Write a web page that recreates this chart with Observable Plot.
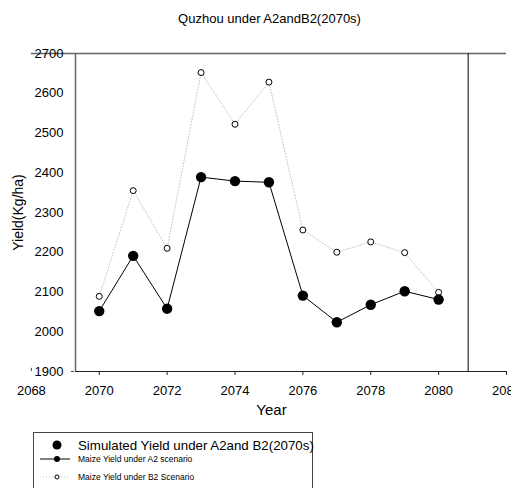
<!DOCTYPE html>
<html>
<head>
<meta charset="utf-8">
<script src="https://cdn.jsdelivr.net/npm/d3@7"></script>
<script src="https://cdn.jsdelivr.net/npm/@observablehq/plot@0.6"></script>
<style>
  html, body { margin: 0; padding: 0; background: #fff; }
  svg { display: block; font-family: "Liberation Sans", Arial, sans-serif; }
</style>
</head>
<body>
<div id="chart"></div>
<script>
// Maize yield at Quzhou, 2070–2080, under the A2 and B2 climate scenarios
const years = [2070, 2071, 2072, 2073, 2074, 2075, 2076, 2077, 2078, 2079, 2080];
const yieldA2 = [2052, 2191, 2058, 2389, 2379, 2376, 2091, 2024, 2068, 2102, 2081];
const yieldB2 = [2089, 2355, 2210, 2652, 2522, 2628, 2256, 2200, 2226, 2199, 2099];

const xTicks = [2068, 2070, 2072, 2074, 2076, 2078, 2080, 2082];
const yTicks = [1900, 2000, 2100, 2200, 2300, 2400, 2500, 2600, 2700];

const titleText = "Quzhou under A2andB2(2070s)";
const xLabel = "Year";
const yLabel = "Yield(Kg/ha)";
const legendTitle = "Simulated Yield under A2and B2(2070s)";
const legendA2 = "Maize Yield under A2 scenario";
const legendB2 = "Maize Yield under B2 Scenario";

const a2 = years.map((year, i) => ({year, value: yieldA2[i]}));
const b2 = years.map((year, i) => ({year, value: yieldB2[i]}));

const xMin = 2069.3, xMax = 2082;
const yMin = 1900, yMax = 2700;
const rightLine = 2080.87;

const chart = Plot.plot({
  width: 511,
  height: 488,
  marginLeft: 75,
  marginRight: 5,
  marginTop: 53,
  marginBottom: 117,
  style: {fontFamily: "Liberation Sans, Arial, sans-serif", background: "#fff"},
  x: {domain: [xMin, xMax], axis: null},
  y: {domain: [yMin, yMax], axis: null},
  marks: [
    // frame: top line, left axis, bottom axis, right divider
    Plot.ruleY([yMax], {x1: 2068, x2: xMax, stroke: "#666", strokeWidth: 1.5}),
    Plot.ruleX([xMin], {y1: yMin, y2: yMax, stroke: "#666", strokeWidth: 1.5}),
    Plot.ruleY([yMin], {x1: xMin, x2: xMax, stroke: "#222", strokeWidth: 1}),
    Plot.ruleY([yMin], {x1: xMin - 0.12, x2: xMin - 0.03, stroke: "#444", strokeWidth: 1}),
    Plot.ruleX([2068], {y1: yMin, y2: yMin + 8, stroke: "#444", strokeWidth: 1}),
    Plot.ruleX([rightLine], {y1: yMin, y2: yMax, stroke: "#000", strokeWidth: 1}),

    // x ticks and labels
    Plot.ruleX(xTicks.filter(d => d >= xMin), {y1: yMin, y2: yMin - 10, stroke: "#222", strokeWidth: 1}),
    Plot.text(xTicks, {x: d => d, y: yMin, dy: 19, text: d => String(d), fontSize: 13, fill: "#000"}),
    // y labels
    Plot.text(yTicks, {x: xMin, y: d => d, dx: -12, text: d => String(d), textAnchor: "end", fontSize: 13, fill: "#000"}),

    // B2 scenario: faint dotted line with open circles
    Plot.line(b2, {x: "year", y: "value", stroke: "#c4c4c4", strokeWidth: 1, strokeDasharray: "1,2"}),
    Plot.dot(b2, {x: "year", y: "value", r: 3, stroke: "#000", strokeWidth: 1, fill: "#fff"}),

    // A2 scenario: solid line with filled circles
    Plot.line(a2, {x: "year", y: "value", stroke: "#000", strokeWidth: 1}),
    Plot.dot(a2, {x: "year", y: "value", r: 5.2, fill: "#000", stroke: "none"}),

    // title and axis labels
    Plot.text([titleText], {frameAnchor: "top-left", dx: 194, dy: -40, textAnchor: "middle", text: d => d, fontSize: 13, fill: "#000"}),
    Plot.text([xLabel], {frameAnchor: "bottom-left", dx: 196, dy: 43, textAnchor: "middle", text: d => d, fontSize: 15, fill: "#000"}),
    Plot.text([yLabel], {frameAnchor: "left", dx: -57, rotate: -90, textAnchor: "middle", text: d => d, fontSize: 14, fill: "#000"})
  ]
});

// legend box below the axes
const svg = d3.select(chart);
const legend = svg.append("g")
  .attr("font-family", "Liberation Sans, Arial, sans-serif")
  .attr("text-anchor", "start")
  .attr("fill", "#000");
legend.append("rect")
  .attr("x", 33.5).attr("y", 432.5).attr("width", 279).attr("height", 70)
  .attr("fill", "#fff").attr("stroke", "#444").attr("stroke-width", 1);
legend.append("circle").attr("cx", 57).attr("cy", 445).attr("r", 4.5).attr("fill", "#000");
legend.append("text").attr("x", 78).attr("y", 450).attr("font-size", 13.3).attr("fill", "#000").text(legendTitle);
legend.append("line").attr("x1", 40).attr("x2", 70).attr("y1", 459).attr("y2", 459)
  .attr("stroke", "#000").attr("stroke-width", 1);
legend.append("circle").attr("cx", 57).attr("cy", 459).attr("r", 3).attr("fill", "#000");
legend.append("text").attr("x", 78).attr("y", 462).attr("font-size", 8.5).attr("fill", "#000").text(legendA2);
legend.append("line").attr("x1", 40).attr("x2", 70).attr("y1", 477).attr("y2", 477)
  .attr("stroke", "#ccc").attr("stroke-width", 1).attr("stroke-dasharray", "1,2");
legend.append("circle").attr("cx", 57).attr("cy", 477).attr("r", 2).attr("fill", "#fff")
  .attr("stroke", "#000").attr("stroke-width", 1);
legend.append("text").attr("x", 78).attr("y", 480).attr("font-size", 8.5).attr("fill", "#000").text(legendB2);

document.getElementById("chart").append(chart);
</script>
</body>
</html>
